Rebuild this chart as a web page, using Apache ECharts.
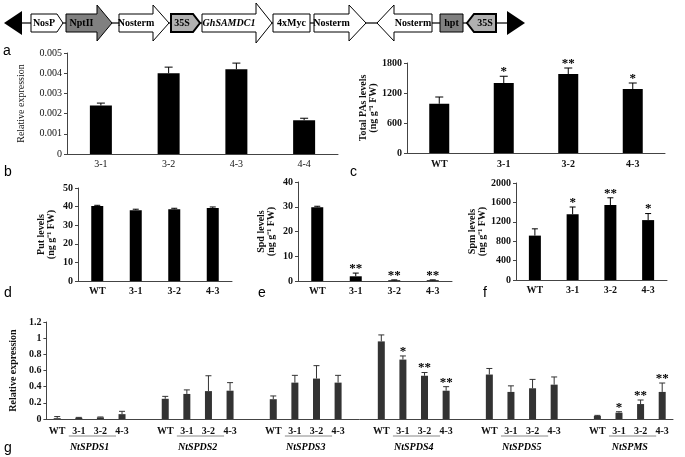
<!DOCTYPE html>
<html>
<head>
<meta charset="utf-8">
<title>GhSAMDC1 transgenic lines</title>
<script src="https://cdn.jsdelivr.net/npm/echarts@6.0.0/dist/echarts.min.js"></script>
</head>
<body style="margin:0">
<div id="main" style="width:685px;height:457px;"></div>
<script type="text/javascript">
// data
var linesA = ['3-1', '3-2', '4-3', '4-4'];
var lines4 = ['WT', '3-1', '3-2', '4-3'];

var exprA = [0.0024, 0.0040, 0.0042, 0.00167];
var exprAErr = [0.00012, 0.0003, 0.0003, 0.0001];

var totalPA = [985, 1400, 1580, 1280];
var totalPAErr = [135, 135, 120, 120];
var totalPASig = ['', '*', '**', '*'];

var put = [40.3, 38.1, 38.6, 39.3];
var putErr = [0.4, 0.5, 0.5, 0.5];
var putSig = ['', '', '', ''];

var spd = [29.8, 1.9, 0.3, 0.3];
var spdErr = [0.4, 1.3, 0.15, 0.15];
var spdSig = ['', '**', '**', '**'];

var spm = [915, 1355, 1545, 1235];
var spmErr = [140, 150, 150, 135];
var spmSig = ['', '*', '**', '*'];

var genes = ['NtSPDS1', 'NtSPDS2', 'NtSPDS3', 'NtSPDS4', 'NtSPDS5', 'NtSPMS'];
var geneExpr = [
    [0.01, 0.015, 0.02, 0.06],
    [0.25, 0.31, 0.345, 0.35],
    [0.245, 0.45, 0.50, 0.45],
    [0.96, 0.735, 0.535, 0.35],
    [0.55, 0.335, 0.38, 0.425],
    [0.037, 0.078, 0.185, 0.335]
];
var geneErr = [
    [0.02, 0.005, 0.005, 0.035],
    [0.03, 0.05, 0.19, 0.1],
    [0.04, 0.09, 0.16, 0.09],
    [0.08, 0.045, 0.04, 0.05],
    [0.075, 0.075, 0.11, 0.095],
    [0.008, 0.012, 0.05, 0.11]
];
var geneSig = [
    ['', '', '', ''],
    ['', '', '', ''],
    ['', '', '', ''],
    ['', '*', '**', '**'],
    ['', '', '', ''],
    ['', '*', '**', '**']
];

var SERIF = '"Liberation Serif", "Times New Roman", serif';
var SANS = '"Liberation Sans", Arial, sans-serif';

var myChart = echarts.init(document.getElementById('main'));

// panel g: 4 bars per gene plus one empty slot between genes
var gCats = [], gBars = [], gErrData = [], gSigFlat = [];
genes.forEach(function (g, gi) {
    lines4.forEach(function (l, li) {
        var idx = gCats.length;
        gCats.push(g + '|' + l);
        gBars.push(geneExpr[gi][li]);
        gErrData.push([idx, geneExpr[gi][li], geneErr[gi][li]]);
        gSigFlat.push(geneSig[gi][li]);
    });
    if (gi < genes.length - 1) {
        gCats.push(g + '|gap');
        gBars.push('-');
    }
});

function errSeries(axisIdx, data, sigs, cap, color) {
    return {
        type: 'custom',
        xAxisIndex: axisIdx,
        yAxisIndex: axisIdx,
        data: data,
        z: 5,
        renderItem: function (params, api) {
            var x = api.value(0), v = api.value(1), e = api.value(2);
            var p0 = api.coord([x, v]);
            var p1 = api.coord([x, v + e]);
            var st = { stroke: color || '#000', lineWidth: 1 };
            var kids = [
                { type: 'line', shape: { x1: p0[0], y1: p0[1], x2: p1[0], y2: p1[1] }, style: st },
                { type: 'line', shape: { x1: p1[0] - cap, y1: p1[1], x2: p1[0] + cap, y2: p1[1] }, style: st }
            ];
            var s = sigs[params.dataIndex];
            if (s) {
                kids.push({
                    type: 'text',
                    style: {
                        text: s, x: p1[0], y: p1[1] + 2, align: 'center', verticalAlign: 'bottom',
                        fill: '#000', font: 'bold 13px ' + SERIF
                    }
                });
            }
            return { type: 'group', children: kids };
        }
    };
}

function simpleErr(vals, errs) {
    return vals.map(function (v, i) { return [i, v, errs[i]]; });
}

function catAxis(gridIndex, cats, margin, bold) {
    return {
        type: 'category', gridIndex: gridIndex, data: cats,
        axisLine: { show: true, lineStyle: { color: '#444', width: 1 } },
        axisTick: { show: false },
        axisLabel: {
            interval: 0, margin: margin, color: '#111', fontFamily: SERIF,
            fontSize: 10, fontWeight: bold ? 'bold' : 'normal'
        }
    };
}

function valAxis(gridIndex, max, interval, name, gap, bold) {
    return {
        type: 'value', gridIndex: gridIndex, min: 0, max: max, interval: interval,
        splitLine: { show: false },
        axisLine: { show: true, lineStyle: { color: '#444', width: 1 } },
        axisTick: { show: true, length: 3, lineStyle: { color: '#444' } },
        axisLabel: {
            color: '#111', fontFamily: SERIF, fontSize: 10,
            fontWeight: bold ? 'bold' : 'normal', margin: 5,
            formatter: function (v) { return String(+v.toFixed(6)); }
        },
        name: name, nameLocation: 'middle', nameGap: gap, nameRotate: 90,
        nameTextStyle: {
            color: '#111', fontFamily: SERIF, fontSize: 10,
            fontWeight: bold ? 'bold' : 'normal', lineHeight: 10
        }
    };
}

function barSeries(idx, data, width, color) {
    return {
        type: 'bar', xAxisIndex: idx, yAxisIndex: idx, data: data,
        barWidth: width, itemStyle: { color: color }, z: 2
    };
}

var unit = '(ng g\u207B\u00B9 FW)';

var option = {
    animation: false,
    grid: [
        { left: 67, top: 53, width: 271, height: 101 },   // a
        { left: 407, top: 63, width: 258, height: 90 },   // total PAs
        { left: 78, top: 188, width: 154, height: 93 },   // Put
        { left: 298, top: 182, width: 154, height: 99 },  // Spd
        { left: 516, top: 183, width: 151, height: 97 },  // Spm
        { left: 42, top: 322, width: 631, height: 97 }    // g
    ],
    xAxis: [
        catAxis(0, linesA, 5, false),
        catAxis(1, lines4, 6, true),
        catAxis(2, lines4, 5, true),
        catAxis(3, lines4, 5, true),
        catAxis(4, lines4, 5, true),
        (function () {
            var ax = catAxis(5, gCats, 7, true);
            ax.axisLabel.formatter = function (v) {
                var l = v.split('|')[1];
                return l === 'gap' ? '' : l;
            };
            return ax;
        })()
    ],
    yAxis: [
        valAxis(0, 0.005, 0.001, 'Relative expression', 41, false),
        valAxis(1, 1800, 600, 'Total PAs levels\n' + unit, 21, true),
        valAxis(2, 50, 10, 'Put levels\n' + unit, 22, true),
        valAxis(3, 40, 10, 'Spd levels\n' + unit, 22, true),
        valAxis(4, 2000, 400, 'Spm levels\n' + unit, 24, true),
        valAxis(5, 1.2, 0.2, 'Relative expression', 23, true)
    ],
    series: [
        barSeries(0, exprA, 22, '#000'),
        errSeries(0, simpleErr(exprA, exprAErr), ['', '', '', ''], 4),
        barSeries(1, totalPA, 20, '#000'),
        errSeries(1, simpleErr(totalPA, totalPAErr), totalPASig, 4),
        barSeries(2, put, 12, '#000'),
        errSeries(2, simpleErr(put, putErr), putSig, 3),
        barSeries(3, spd, 12, '#000'),
        errSeries(3, simpleErr(spd, spdErr), spdSig, 3),
        barSeries(4, spm, 12, '#000'),
        errSeries(4, simpleErr(spm, spmErr), spmSig, 3),
        barSeries(5, gBars, 7, '#333'),
        errSeries(5, gErrData, gSigFlat, 3, '#333')
    ]
};

myChart.setOption(option);

// construct diagram and panel letters
var CY = 23;
function poly(points, fill, lw) {
    return { type: 'polygon', shape: { points: points }, style: { fill: fill, stroke: '#000', lineWidth: lw || 1 }, z: 10 };
}
function label(x, text, italic) {
    return {
        type: 'text', z: 11, x: x, y: CY,
        style: {
            text: text, align: 'center', verticalAlign: 'middle', fill: '#000',
            font: (italic ? 'italic ' : '') + 'bold 10px ' + SERIF
        }
    };
}
function arrowR(x1, x2, head, hh, fill, text, italic, lw) {
    var xb = x2 - head;
    return [poly([[x1, CY - 9], [xb, CY - 9], [xb, CY - hh], [x2, CY], [xb, CY + hh], [xb, CY + 9], [x1, CY + 9]], fill, lw),
        label((x1 + xb) / 2, text, italic)];
}
function arrowL(x1, x2, head, hh, fill, text, lw) {
    var xb = x1 + head;
    return [poly([[x2, CY - 9], [xb, CY - 9], [xb, CY - hh], [x1, CY], [xb, CY + hh], [xb, CY + 9], [x2, CY + 9]], fill, lw),
        label((xb + x2) / 2, text)];
}
function boxEl(x1, x2, fill, text) {
    return [poly([[x1, CY - 9], [x2, CY - 9], [x2, CY + 9], [x1, CY + 9]], fill), label((x1 + x2) / 2, text)];
}

var g = [];
g.push({ type: 'line', z: 9, shape: { x1: 20, y1: CY, x2: 510, y2: CY }, style: { stroke: '#333', lineWidth: 1.5 } });
g.push({ type: 'polygon', z: 10, shape: { points: [[4, CY], [22, CY - 12], [22, CY + 12]] }, style: { fill: '#000' } });
g.push({ type: 'polygon', z: 10, shape: { points: [[525, CY], [507, CY - 12], [507, CY + 12]] }, style: { fill: '#000' } });
g = g.concat(arrowR(31, 63, 6, 9, '#fff', 'NosP'));
g = g.concat(arrowR(66, 112, 15, 18, '#808080', 'NptII'));
g = g.concat(arrowR(119, 169, 16, 18, '#fff', 'Nosterm'));
g = g.concat(arrowR(171, 200, 7, 9, '#b0b0b0', '35S', false, 2));
g = g.concat(arrowR(202, 272, 16, 20, '#fff', 'GhSAMDC1', true));
g = g.concat(boxEl(273, 310, '#fff', '4xMyc'));
g = g.concat(arrowR(314, 366, 17, 18, '#fff', 'Nosterm'));
g = g.concat(arrowL(377, 432, 17, 18, '#fff', 'Nosterm'));
g = g.concat(boxEl(440, 463, '#808080', 'hpt'));
g = g.concat(arrowL(467, 496, 7, 9, '#b0b0b0', '35S', 2));

[['a', 3, 51], ['b', 4, 172], ['c', 350, 172], ['d', 4, 293], ['e', 258, 293], ['f', 483, 293], ['g', 4, 448]].forEach(function (p) {
    g.push({ type: 'text', x: p[1], y: p[2], style: { text: p[0], font: '14px ' + SANS, fill: '#000', verticalAlign: 'middle' } });
});

// gene names and underlines under panel g
genes.forEach(function (name, gi) {
    var c0 = myChart.convertToPixel({ xAxisIndex: 5 }, gi * 5);
    var c1 = myChart.convertToPixel({ xAxisIndex: 5 }, gi * 5 + 1);
    var c3 = myChart.convertToPixel({ xAxisIndex: 5 }, gi * 5 + 3);
    g.push({ type: 'line', shape: { x1: c1 - 10, y1: 436, x2: c3 - 6, y2: 436 }, style: { stroke: '#888', lineWidth: 1 } });
    g.push({
        type: 'text', x: (c0 + c3) / 2, y: 447,
        style: { text: name, align: 'center', verticalAlign: 'middle', fill: '#000', font: 'italic bold 10px ' + SERIF }
    });
});

myChart.setOption({ graphic: g });
</script>
</body>
</html>
